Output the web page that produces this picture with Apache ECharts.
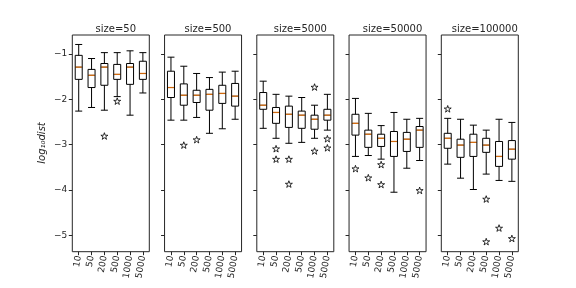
<!DOCTYPE html>
<html>
<head>
<meta charset="utf-8">
<script src="https://cdn.jsdelivr.net/npm/echarts@6/dist/echarts.min.js"></script>
<style>html,body{margin:0;padding:0;background:#fff}#c{width:576px;height:288px}</style>
</head>
<body>
<div id="c"></div>
<script>
const panelTitles = ['size=50', 'size=500', 'size=5000', 'size=50000', 'size=100000'];
const categories = ['10', '50', '200', '500', '1000', '5000'];
const yTicks = [-5, -4, -3, -2, -1];

// [min, Q1, median, Q3, max] per category
const boxes50 = [
  [-2.26, -1.56, -1.29, -1.03, -0.79],
  [-2.18, -1.74, -1.47, -1.34, -1.10],
  [-2.24, -1.69, -1.29, -1.21, -0.97],
  [-1.94, -1.56, -1.45, -1.23, -0.97],
  [-2.35, -1.67, -1.29, -1.21, -0.93],
  [-1.86, -1.56, -1.43, -1.16, -0.97]
];
const boxes500 = [
  [-2.46, -1.96, -1.74, -1.38, -1.07],
  [-2.46, -2.13, -1.91, -1.66, -1.27],
  [-2.40, -2.07, -1.91, -1.80, -1.43],
  [-2.75, -2.24, -1.89, -1.78, -1.52],
  [-2.65, -2.09, -1.87, -1.69, -1.40],
  [-2.44, -2.15, -1.93, -1.65, -1.38]
];
const boxes5000 = [
  [-2.64, -2.22, -2.13, -1.85, -1.60],
  [-2.86, -2.53, -2.29, -2.18, -1.89],
  [-2.97, -2.62, -2.33, -2.15, -1.93],
  [-2.95, -2.64, -2.35, -2.26, -1.96],
  [-2.86, -2.66, -2.44, -2.35, -2.13],
  [-2.68, -2.46, -2.35, -2.22, -1.89]
];
const boxes50000 = [
  [-3.26, -2.79, -2.53, -2.33, -1.98],
  [-3.24, -3.06, -2.77, -2.68, -2.31],
  [-3.32, -3.04, -2.86, -2.77, -2.58],
  [-4.05, -3.26, -2.93, -2.71, -2.29],
  [-3.52, -3.15, -2.88, -2.73, -2.44],
  [-3.35, -3.06, -2.68, -2.60, -2.42]
];
const boxes100000 = [
  [-3.43, -3.08, -2.86, -2.75, -2.42],
  [-3.74, -3.28, -3.01, -2.88, -2.44],
  [-3.99, -3.26, -2.95, -2.77, -2.57],
  [-3.65, -3.17, -3.01, -2.86, -2.68],
  [-3.79, -3.48, -3.26, -2.93, -2.44],
  [-3.81, -3.32, -3.10, -2.91, -2.51]
];

// [category index, value]
const outliers50 = [[2, -2.81], [3, -2.04]];
const outliers500 = [[1, -3.01], [2, -2.89]];
const outliers5000 = [[1, -3.09], [1, -3.32], [2, -3.32], [2, -3.87], [4, -1.73], [4, -3.14], [5, -2.87], [5, -3.07]];
const outliers50000 = [[0, -3.53], [1, -3.73], [2, -3.44], [2, -3.88], [5, -4.01]];
const outliers100000 = [[0, -2.21], [3, -4.20], [3, -5.14], [4, -4.84], [5, -5.07]];

const allBoxes = [boxes50, boxes500, boxes5000, boxes50000, boxes100000];
const allOutliers = [outliers50, outliers500, outliers5000, outliers50000, outliers100000];

const ink = '#262626';
const font = 'DejaVu Sans';
const star = 'path://M1,0L0.7755,0.691L0.049,0.691L0.637,1.118L0.412,1.809L1,1.382L1.588,1.809L1.363,1.118L1.951,0.691L1.2245,0.691Z';

const grids = [], xAxes = [], yAxes = [], series = [], titles = [];
for (let i = 0; i < 5; i++) {
  const left = 72.3 + 92.25 * i;
  const width = 77;
  grids.push({ left: left, top: 35, width: width, height: 216.7, show: true, borderColor: ink, borderWidth: 1, backgroundColor: 'transparent' });
  titles.push({
    text: panelTitles[i], left: left + width / 2, top: 19, textAlign: 'center',
    textStyle: { fontSize: 10, fontWeight: 'normal', color: ink, fontFamily: font }
  });
  xAxes.push({
    type: 'category', gridIndex: i, data: categories, boundaryGap: true,
    axisLine: { show: false },
    axisTick: { show: true, alignWithLabel: true, length: 3.5, lineStyle: { color: ink } },
    axisLabel: { rotate: 80, fontSize: 9, color: ink, fontFamily: font, margin: 4, interval: 0 },
    splitLine: { show: false }
  });
  yAxes.push({
    type: 'value', gridIndex: i, min: -5.362, max: -0.581,
    axisLine: { show: false },
    axisTick: { show: true, length: 3.5, lineStyle: { color: ink }, customValues: yTicks },
    axisLabel: { show: i === 0, fontSize: 9, color: ink, fontFamily: font, margin: 5, customValues: yTicks,
      formatter: v => String(v).replace('-', '\u2212') },
    splitLine: { show: false }
  });
  series.push({
    type: 'boxplot', xAxisIndex: i, yAxisIndex: i, data: allBoxes[i],
    boxWidth: [7, 7],
    itemStyle: { color: 'transparent', borderColor: '#000', borderWidth: 1 },
    emphasis: { disabled: true }, silent: true, animation: false
  });
  series.push({
    type: 'scatter', xAxisIndex: i, yAxisIndex: i,
    data: allBoxes[i].map((b, k) => [k, b[2]]),
    symbol: 'rect', symbolSize: [6, 1.3],
    itemStyle: { color: '#ff7f0e' }, z: 5, silent: true, animation: false
  });
  series.push({
    type: 'scatter', xAxisIndex: i, yAxisIndex: i,
    data: allOutliers[i],
    symbol: star, symbolKeepAspect: true, symbolSize: 7,
    itemStyle: { color: '#fff', borderColor: '#000', borderWidth: 1 }, z: 6, silent: true, animation: false
  });
}

const chart = echarts.init(document.getElementById('c'), null, { renderer: 'canvas' });
chart.setOption({
  animation: false,
  backgroundColor: '#fff',
  title: titles,
  grid: grids,
  xAxis: xAxes,
  yAxis: yAxes,
  series: series,
  graphic: [{
    type: 'text', x: 42, y: 143, rotation: Math.PI / 2,
    style: { text: 'log\u2081\u2080dist', fontSize: 10, fontStyle: 'italic', fill: ink, fontFamily: font, align: 'center', verticalAlign: 'middle' }
  }]
});
</script>
</body>
</html>
